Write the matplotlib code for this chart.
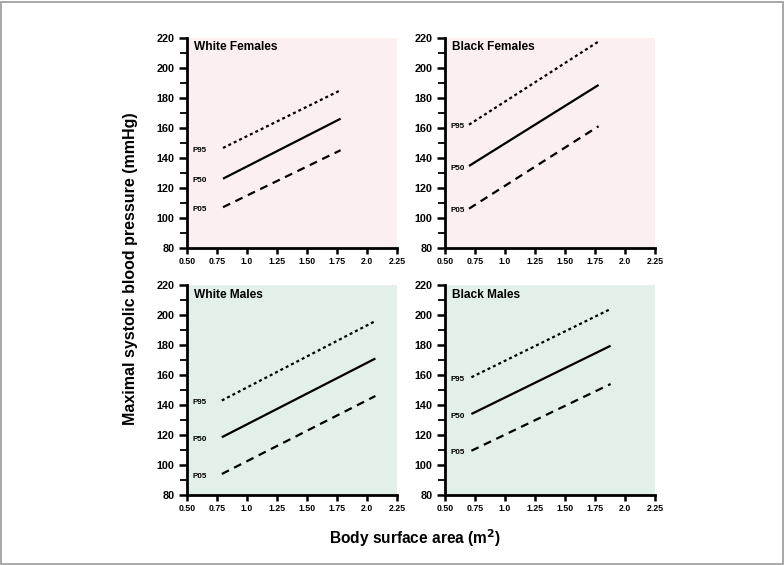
import matplotlib
matplotlib.use("Agg")
import matplotlib.pyplot as plt
from matplotlib.patches import Rectangle
from matplotlib.ticker import MultipleLocator, FixedLocator

# ---- data ----
panels = ["White Females", "Black Females", "White Males", "Black Males"]
x_white_f = [0.80, 1.78]
p95_white_f = [146.5, 185.0]
p50_white_f = [126.0, 166.0]
p05_white_f = [107.0, 145.0]

x_black_f = [0.70, 1.78]
p95_black_f = [162.0, 217.5]
p50_black_f = [134.5, 188.5]
p05_black_f = [106.0, 161.0]

x_white_m = [0.79, 2.07]
p95_white_m = [143.0, 196.0]
p50_white_m = [118.5, 171.0]
p05_white_m = [94.0, 146.0]

x_black_m = [0.72, 1.88]
p95_black_m = [158.5, 204.0]
p50_black_m = [134.0, 179.5]
p05_black_m = [109.5, 154.0]

x_ticks = [0.50, 0.75, 1.0, 1.25, 1.50, 1.75, 2.0, 2.25]
x_tick_labels = ["0.50", "0.75", "1.0", "1.25", "1.50", "1.75", "2.0", "2.25"]
y_ticks = [80, 100, 120, 140, 160, 180, 200, 220]
percentile_labels = ["P95", "P50", "P05"]

data = [
    (x_white_f, p95_white_f, p50_white_f, p05_white_f),
    (x_black_f, p95_black_f, p50_black_f, p05_black_f),
    (x_white_m, p95_white_m, p50_white_m, p05_white_m),
    (x_black_m, p95_black_m, p50_black_m, p05_black_m),
]

# ---- style ----
SANS = ["Liberation Sans", "DejaVu Sans"]
pink = "#fcefef"
green = "#e3f0ea"
bgs = [pink, pink, green, green]

W, H = 784, 565
fig = plt.figure(figsize=(W / 100, H / 100), dpi=100)

# axes boxes in pixels: left, top(220)
boxes = [(187, 37.7), (445, 37.7), (187, 285), (445, 285)]
aw, ah = 210, 210

styles = [(0, (1.35, 1.35)), "solid", (0, (3.6, 2.6))]
lw = 1.6

for i, (name, (xs, p95, p50, p05), (lpx, tpx)) in enumerate(zip(panels, data, boxes)):
    ax = fig.add_axes([lpx / W, 1 - (tpx + ah) / H, aw / W, ah / H])
    ax.set_facecolor(bgs[i])
    ax.set_xlim(0.5, 2.25)
    ax.set_ylim(80, 220)
    for s in ["top", "right"]:
        ax.spines[s].set_visible(False)
    for s in ["left", "bottom"]:
        ax.spines[s].set_linewidth(2.0)
        ax.spines[s].set_color("black")
    ax.xaxis.set_major_locator(FixedLocator(x_ticks))
    ax.set_xticklabels(x_tick_labels, fontfamily=SANS, fontweight="bold", fontsize=6.3)
    ax.yaxis.set_major_locator(FixedLocator(y_ticks))
    ax.yaxis.set_minor_locator(MultipleLocator(10))
    ax.set_yticklabels([str(v) for v in y_ticks], fontfamily=SANS, fontweight="bold", fontsize=7.8)
    ax.tick_params(axis="y", which="major", direction="out", length=6, width=1.8, pad=3)
    ax.tick_params(axis="y", which="minor", direction="out", length=5, width=1.3)
    ax.tick_params(axis="x", which="major", direction="out", length=4.5, width=1.8, pad=2)

    for vals, ls, lab in zip([p95, p50, p05], styles, percentile_labels):
        ax.plot(xs, vals, color="black", lw=lw, linestyle=ls, solid_capstyle="butt",
                dash_capstyle="butt")
        ax.text(0.545, vals[0] - 1.5, lab, fontfamily=SANS, fontweight="bold",
                fontsize=5.8, ha="left", va="center")

    ax.text(0.555, 213.5, name, fontfamily=SANS, fontweight="bold", fontsize=8.6,
            ha="left", va="center")

fig.text(130 / W, 1 - 269 / H, "Maximal systolic blood pressure (mmHg)", rotation=90,
         ha="center", va="center", fontfamily=SANS, fontweight="bold", fontsize=11.5)
fig.text(415 / W, 1 - 538 / H, "Body surface area (m$^\\mathbf{2}$)",
         ha="center", va="center", fontfamily=SANS, fontweight="bold", fontsize=11.2)

fig.patches.append(Rectangle((0.5 / W, 1.5 / H), (W - 2) / W, (H - 3) / H,
                             transform=fig.transFigure, fill=False,
                             edgecolor="#9a9a9a", lw=1.2))

fig.savefig("out.png", dpi=100)
